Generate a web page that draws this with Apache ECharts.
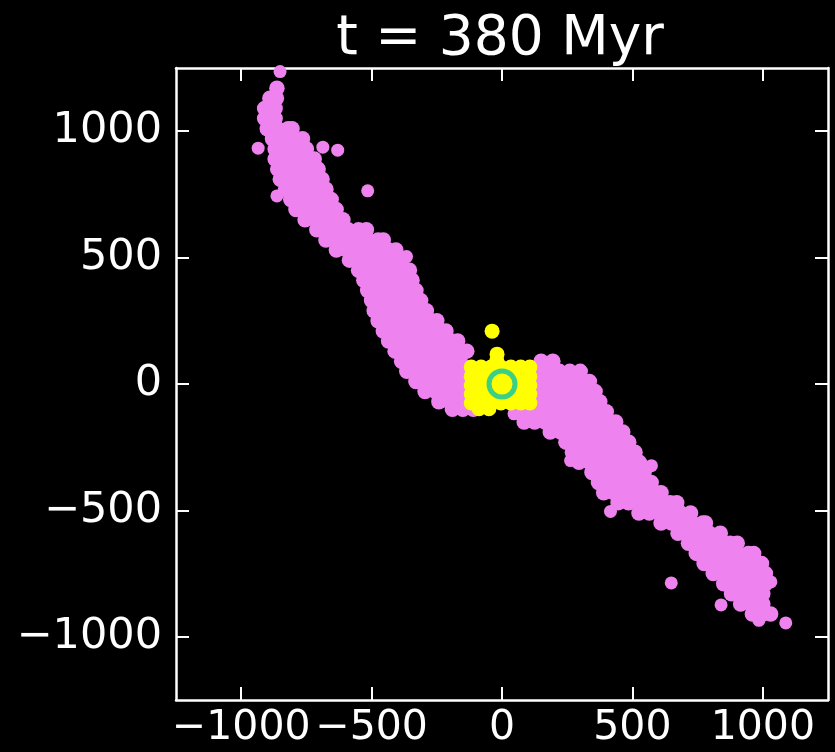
<!DOCTYPE html>
<html>
<head>
<meta charset="utf-8">
<script src="https://cdn.jsdelivr.net/npm/echarts@6/dist/echarts.min.js"></script>
<style>
  html, body { margin: 0; padding: 0; background: #000; }
  #main { width: 835px; height: 752px; }
</style>
</head>
<body>
<div id="main"></div>
<script>
// tick labels shown on both axes
var tickValues = [-1000, -500, 0, 500, 1000];

// stream particles (violet), read row by row: [y, [x, x, ...]]
var pinkRows = [
    [1170, [-863]],
    [1130, [-890, -865]],
    [1090, [-910, -870]],
    [1050, [-910, -870]],
    [1010, [-900, -860, -820, -805]],
    [970, [-880, -840, -800, -765]],
    [930, [-870, -830, -790, -750]],
    [890, [-870, -830, -790, -750, -720]],
    [850, [-860, -820, -780, -740, -705]],
    [810, [-850, -810, -770, -730, -690]],
    [770, [-830, -790, -750, -710, -675]],
    [730, [-810, -770, -730, -690, -655]],
    [690, [-790, -750, -710, -670, -636]],
    [650, [-755, -715, -675, -635, -610]],
    [610, [-710, -670, -630, -590, -550, -520]],
    [570, [-675, -635, -595, -555, -515, -475, -455]],
    [530, [-635, -595, -555, -515, -475, -435, -407]],
    [490, [-585, -545, -505, -465, -425, -385]],
    [450, [-550, -510, -470, -430, -390, -355]],
    [410, [-530, -490, -450, -410, -370, -345]],
    [370, [-515, -475, -435, -395, -355, -330]],
    [330, [-500, -460, -420, -380, -340, -312]],
    [290, [-490, -450, -410, -370, -330, -290]],
    [250, [-475, -435, -395, -355, -315, -275, -250]],
    [210, [-455, -415, -375, -335, -295, -255, -215]],
    [170, [-435, -395, -355, -315, -275, -235, -195, -170]],
    [130, [-410, -370, -330, -290, -250, -210, -170, -135]],
    [90, [-385, -345, -305, -265, -225, -185, -160, 150, 195]],
    [50, [-365, -325, -285, -245, -205, -165, -130, 140, 180, 220, 260, 300]],
    [10, [-330, -290, -250, -210, -170, -130, 140, 180, 220, 260, 300, 335]],
    [-30, [-295, -255, -215, -175, -135, 140, 180, 220, 260, 300, 340, 357]],
    [-70, [-242, -200, -160, -120, 100, 140, 180, 220, 260, 300, 340, 375]],
    [-100, [-190, -150, -110]],
    [-110, [60, 100, 140, 180, 220, 260, 300, 340, 380, 400]],
    [-150, [85, 125, 165, 205, 245, 285, 325, 365, 405, 436]],
    [-190, [185, 225, 265, 305, 345, 385, 425, 463]],
    [-230, [245, 285, 325, 365, 405, 445, 486]],
    [-270, [270, 310, 350, 390, 430, 470, 510]],
    [-310, [295, 335, 375, 415, 455, 495, 527]],
    [-350, [345, 385, 425, 465, 505, 545]],
    [-390, [370, 410, 450, 490, 530, 572]],
    [-430, [390, 430, 470, 510, 550, 590, 610]],
    [-470, [445, 485, 525, 565, 605, 645, 670]],
    [-510, [525, 565, 605, 645, 685, 723]],
    [-550, [610, 650, 690, 730, 770, 780]],
    [-590, [675, 715, 755, 795, 837]],
    [-630, [715, 755, 795, 835, 875, 902]],
    [-670, [745, 785, 825, 865, 905, 945, 965]],
    [-710, [775, 815, 855, 895, 935, 975, 995]],
    [-750, [810, 850, 890, 930, 970, 1010]],
    [-790, [850, 890, 930, 970, 1010]],
    [-830, [880, 920, 960, 1000]],
    [-870, [915, 955, 1000]],
    [-910, [960, 1000, 1030]]
];

// stray violet particles
var pinkLone = [
    [-851, 1236], [-935, 933], [-863, 744], [-687, 937], [-630, 925],
    [-515, 764], [-366, 504], [46, -118], [263, -303], [573, -323],
    [416, -504], [649, -787], [840, -874], [1031, -783], [1088, -945],
    [985, -935]
];

// bound core (yellow)
var yellowRows = [
    [67, [-118, -80, -42, -4, 34, 72, 107]],
    [30, [-118, -80, -42, -4, 34, 72, 107]],
    [-5, [-118, -80, -42, -4, 34, 72, 107]],
    [-40, [-118, -80, -42, -4, 34, 72, 107]],
    [-75, [-118, -80, -42, -4, 34, 72, 107]]
];
var yellowLone = [[-38, 209], [-19, 118], [-20, 92], [-88, -98], [-50, -98]];

// centre marker
var ringCenter = [[0, 0]];

function fromRows(rows) {
    var out = [];
    rows.forEach(function (r) {
        r[1].forEach(function (x) { out.push([x, r[0]]); });
    });
    return out;
}

var chart = echarts.init(document.getElementById('main'), null, {renderer: 'canvas'});

var fontFamily = 'DejaVu Sans';
var minusFmt = function (v) { return String(v).replace('-', '\u2212'); };

function makeAxis(pos, showLabel, margin, fontSize) {
    return {
        type: 'value',
        min: -1250,
        max: 1250,
        position: pos,
        axisLine: {show: true, onZero: false, lineStyle: {color: '#fff', width: 2.5}},
        axisTick: {show: true, inside: true, length: 13, customValues: tickValues,
            lineStyle: {color: '#fff', width: 2}},
        axisLabel: {show: showLabel, customValues: tickValues, color: '#fff',
            fontSize: fontSize, fontFamily: fontFamily, margin: margin, formatter: minusFmt,
            hideOverlap: false, interval: 0},
        splitLine: {show: false}
    };
}

var option = {
    backgroundColor: '#000',
    animation: false,
    graphic: [{
        type: 'text',
        x: 500,
        y: 40,
        style: {
            text: 't = 380 Myr',
            fill: '#fff',
            font: '55px "DejaVu Sans"',
            textAlign: 'center',
            textVerticalAlign: 'middle',
            align: 'center',
            verticalAlign: 'middle'
        }
    }],
    grid: {left: 176, right: 7, top: 68, bottom: 52},
    xAxis: [makeAxis('bottom', true, 8, 41), makeAxis('top', false, 6, 41)],
    yAxis: [makeAxis('left', true, 14, 43), makeAxis('right', false, 6, 43)],
    series: [
        {
            type: 'scatter',
            data: fromRows(pinkRows),
            symbolSize: 15.5,
            itemStyle: {color: '#ee82ee', opacity: 1},
            silent: true
        },
        {
            type: 'scatter',
            data: pinkLone,
            symbolSize: 13,
            itemStyle: {color: '#ee82ee', opacity: 1},
            silent: true
        },
        {
            type: 'scatter',
            data: fromRows(yellowRows).concat(yellowLone),
            symbolSize: 15,
            itemStyle: {color: '#ffff00', opacity: 1},
            silent: true
        },
        {
            type: 'scatter',
            data: ringCenter,
            symbol: 'circle',
            symbolSize: 26,
            itemStyle: {color: 'rgba(0,0,0,0)', borderColor: '#3ccf86', borderWidth: 5, opacity: 1},
            silent: true
        }
    ]
};

chart.setOption(option);
window.addEventListener('resize', chart.resize);
</script>
</body>
</html>
